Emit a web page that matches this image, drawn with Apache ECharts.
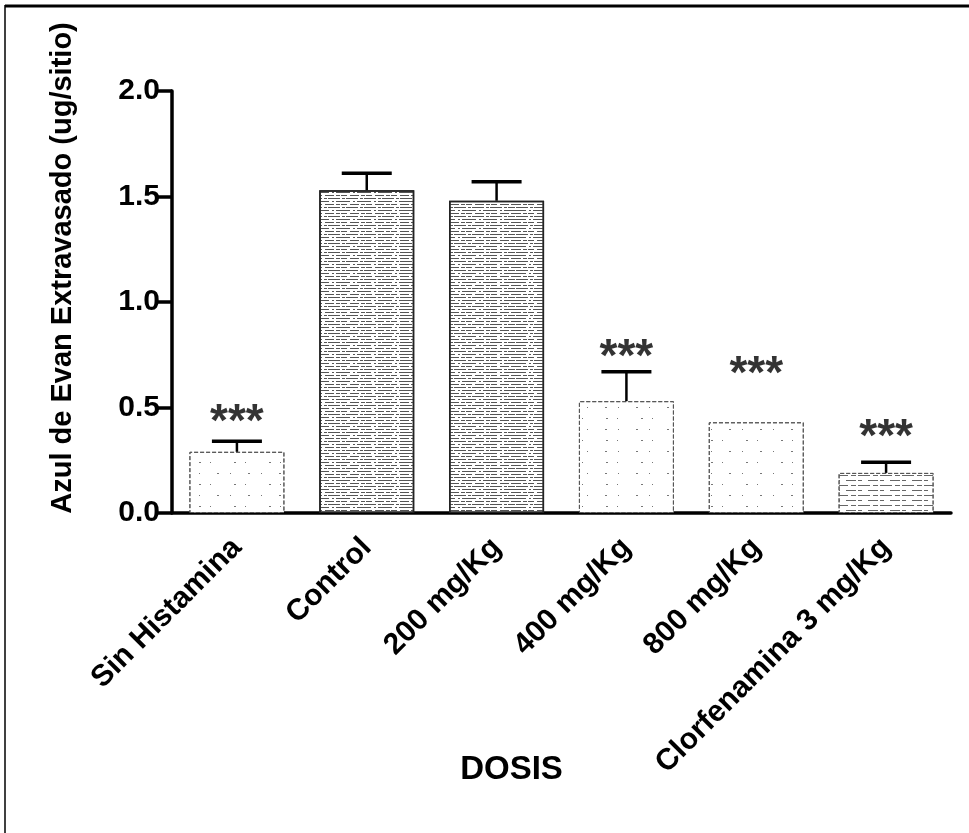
<!DOCTYPE html>
<html>
<head>
<meta charset="utf-8">
<script src="https://cdn.jsdelivr.net/npm/echarts@6/dist/echarts.min.js"></script>
<style>
  html, body { margin: 0; padding: 0; background: #fff; }
  #chart { width: 969px; height: 833px; }
</style>
</head>
<body>
<div id="chart"></div>
<script>
var categories = ['Sin Histamina', 'Control', '200 mg/Kg', '400 mg/Kg', '800 mg/Kg', 'Clorfenamina 3 mg/Kg'];
var means = [0.29, 1.53, 1.48, 0.53, 0.43, 0.19];
var errors = [0.05, 0.08, 0.09, 0.14, 0, 0.05];
var starLevels = [0.48, null, null, 0.79, 0.71, 0.41];
var yTicks = [0, 0.5, 1.0, 1.5, 2.0];

var font = '"Liberation Sans", Arial, sans-serif';

// relleno tipo trama de la imagen escaneada
function barStyle(i) {
  var dense = (i === 1 || i === 2);
  var lines = (i === 5);
  var decal;
  if (dense) {
    decal = { symbol: 'rect', symbolSize: 1, color: '#555',
      dashArrayX: [[9, 2, 4, 1, 6, 3], [3, 1, 12, 2], [14, 3, 2, 2]], dashArrayY: [1, 2] };
  } else if (lines) {
    decal = { symbol: 'rect', symbolSize: 1, color: '#666',
      dashArrayX: [[12, 3, 5, 2], [4, 6, 10, 2]], dashArrayY: [1, 4] };
  } else {
    decal = { symbol: 'rect', symbolSize: 1, color: '#777',
      dashArrayX: [[2, 11, 1, 17], [1, 23, 2, 9]], dashArrayY: [1, 10] };
  }
  return {
    color: '#fff',
    borderColor: dense ? '#222' : '#555',
    borderWidth: dense ? 1.5 : 1,
    borderType: dense ? 'solid' : 'dashed',
    decal: decal
  };
}

var barData = means.map(function (v, i) {
  return { value: v, itemStyle: barStyle(i) };
});
var errData = means.map(function (v, i) { return [i, v, errors[i]]; });
var starData = [];
starLevels.forEach(function (v, i) { if (v !== null) starData.push([i, v]); });

var myChart = echarts.init(document.getElementById('chart'));
myChart.setOption({
  backgroundColor: '#fff',
  animation: false,
  textStyle: { fontFamily: font },
  graphic: [
    { type: 'line', shape: { x1: 5, y1: 6, x2: 969, y2: 6 },
      style: { stroke: '#000', lineWidth: 3 } },
    { type: 'line', shape: { x1: 5, y1: 5, x2: 5, y2: 833 },
      style: { stroke: '#000', lineWidth: 1.5 } }
  ],
  grid: { left: 172, right: 18, top: 91, bottom: 320 },
  xAxis: {
    type: 'category',
    data: categories,
    name: 'DOSIS',
    nameLocation: 'middle',
    nameGap: 240,
    nameMoveOverlap: false,
    nameTextStyle: { color: '#000', fontSize: 33, fontWeight: 'bold', fontFamily: font, padding: [0, 100, 0, 0] },
    axisLine: { lineStyle: { color: '#000', width: 3.5 } },
    axisTick: { alignWithLabel: true, length: 15, lineStyle: { color: '#000', width: 3.5 } },
    axisLabel: { rotate: 45, interval: 0, margin: 30, color: '#000', fontSize: 30, fontWeight: 'bold', fontFamily: font }
  },
  yAxis: {
    type: 'value',
    min: 0,
    max: 2,
    interval: 0.5,
    name: 'Azul de Evan Extravasado (ug/sitio)',
    nameLocation: 'middle',
    nameGap: 95,
    nameMoveOverlap: false,
    nameTextStyle: { color: '#000', fontSize: 29, fontWeight: 'bold', fontFamily: font, padding: [0, 0, 0, 68] },
    axisLine: { show: true, lineStyle: { color: '#000', width: 3.5 } },
    axisTick: { show: true, length: 15, lineStyle: { color: '#000', width: 3.5 } },
    splitLine: { show: false },
    axisLabel: {
      margin: 12, color: '#000', fontSize: 30, fontWeight: 'bold', fontFamily: font,
      formatter: function (v) { return yTicks.indexOf(v) >= 0 ? v.toFixed(1) : ''; }
    }
  },
  series: [
    {
      type: 'bar',
      data: barData,
      barWidth: 95,
      z: 2
    },
    {
      type: 'custom',
      data: errData,
      z: 3,
      renderItem: function (params, api) {
        var i = api.value(0), m = api.value(1), e = api.value(2);
        if (!e) return null;
        var p0 = api.coord([i, m]);
        var p1 = api.coord([i, m + e]);
        return {
          type: 'group',
          children: [
            { type: 'line', shape: { x1: p0[0], y1: p0[1], x2: p1[0], y2: p1[1] },
              style: { stroke: '#000', lineWidth: 2.5 } },
            { type: 'line', shape: { x1: p1[0] - 25, y1: p1[1], x2: p1[0] + 25, y2: p1[1] },
              style: { stroke: '#000', lineWidth: 3.5 } }
          ]
        };
      }
    },
    {
      type: 'scatter',
      data: starData,
      symbolSize: 0,
      z: 4,
      label: {
        show: true,
        position: 'inside',
        offset: [0, 12],
        formatter: '***',
        color: '#000',
        fontSize: 46,
        fontWeight: 'bold',
        fontFamily: font
      }
    }
  ]
});
</script>
</body>
</html>
